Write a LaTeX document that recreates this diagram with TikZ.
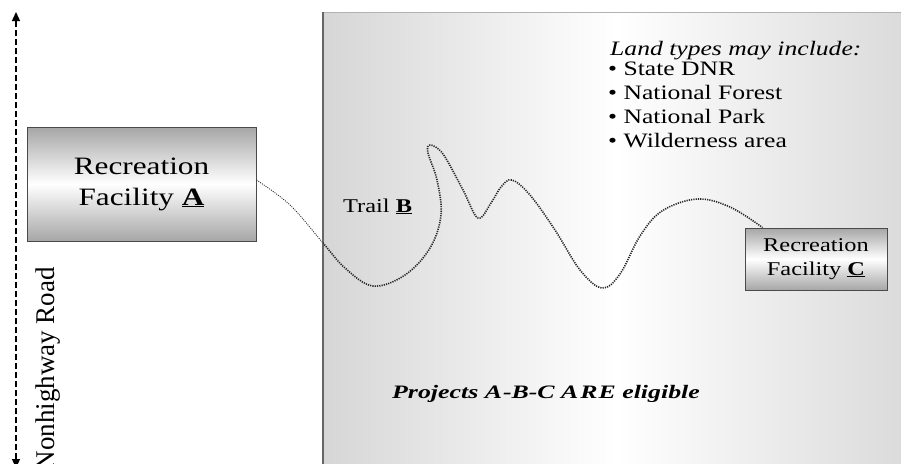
\documentclass[tikz,border=0pt]{standalone}
\usepackage{fontspec}
\setmainfont{Liberation Serif}
\newfontfamily\widefont[FakeStretch=1.25]{Liberation Serif}
\newfontfamily\projfont[FakeStretch=1.36]{Liberation Serif}
\usetikzlibrary{arrows.meta,calc}
\definecolor{paneledge}{HTML}{D6D6D6}
\definecolor{boxgray}{HTML}{A6A6A6}
\definecolor{boxline}{HTML}{4A4A4A}
\tikzset{
  facility/.style={draw=boxline, line width=0.9pt, top color=boxgray, bottom color=boxgray,
    middle color=white, align=center, inner sep=0pt},
  trail/.style={draw=black!85, line width=1.6pt, dash pattern=on 1.2pt off 1.1pt},
  trailthin/.style={draw=black!80, line width=0.9pt, dash pattern=on 1pt off 1.2pt},
  road/.style={draw=black, line width=1.4pt, dash pattern=on 6pt off 3pt},
}
\newcommand\trailpoints{(tA) (290,205) (323,243) (345,268) (373,286) (405,275) (430,248) (441,215)
  (437,180) (428,153) (430,145) (443,154) (463,190) (478,218) (491,203)
  (501,187) (512,180) (530,195) (555,230) (580,270) (602,288) (620,274)
  (640,236) (662,211) (697,199) (730,207) (tC)}
\begin{document}
\begin{tikzpicture}[x=1pt,y=-1pt]
\useasboundingbox (0,0) rectangle (901,463);
\clip (0,0) rectangle (901,463);

% land area panel
\shade[left color=paneledge, right color=paneledge!90, middle color=white]
  (323,12) rectangle (910,470);
\draw[gray!60, line width=0.8pt] (910,12) -- (323,12);
\draw[gray!80!black, line width=1.6pt] (323,12) -- (323,470);

% nonhighway road
\coordinate (roadtop) at (16,12);
\coordinate (roadbot) at (16,468);
\draw[road, {Triangle[width=8pt,length=9pt]}-{Triangle[width=8pt,length=9pt]}] (roadbot) -- (roadtop);
\node[rotate=90, anchor=base east, inner sep=0pt, font=\fontsize{27}{27}\selectfont]
  (roadlabel) at (54,267) {Nonhighway Road};

% facilities
\node[facility, minimum width=229pt, minimum height=114pt,
  font=\widefont\fontsize{25}{31}\selectfont] (A) at (141.5,184)
  {Recreation\\Facility \underline{\textbf{A}}};
\node[facility, minimum width=142pt, minimum height=62pt,
  font=\widefont\fontsize{19.5}{23.5}\selectfont] (C) at (816,259)
  {Recreation\\Facility \underline{\textbf{C}}};

% trail between the facilities: finer outside the panel, heavier inside
\coordinate (tA) at ([yshift=4pt]A.east);
\coordinate (tC) at ([xshift=18pt]C.north west);
\begin{scope}
  \clip (0,0) rectangle (323,463);
  \draw[trailthin] plot[smooth, tension=0.6] coordinates {\trailpoints};
\end{scope}
\begin{scope}
  \clip (323,0) rectangle (901,463);
  \draw[trail] plot[smooth, tension=0.6] coordinates {\trailpoints};
\end{scope}
\node[anchor=base west, inner sep=0pt, font=\widefont\fontsize{19.5}{20}\selectfont]
  (trailB) at (343,212) {Trail \underline{\textbf{B}}};

% land types list
\node[anchor=base west, inner sep=0pt, font=\widefont\itshape\fontsize{20.5}{24}\selectfont]
  (landhead) at (610,55) {Land types may include:};
\node[anchor=north west, inner sep=0pt, align=left,
  font=\widefont\fontsize{20.5}{24}\selectfont] (landlist) at (608,62)
  {\textbullet\ State DNR\\\textbullet\ National Forest\\\textbullet\ National Park\\\textbullet\ Wilderness area};

% eligibility note
\node[anchor=base west, inner sep=0pt, font=\projfont\bfseries\itshape\fontsize{19}{20}\selectfont]
  (note) at (392,398) {Projects A\kern1pt-B-C A\kern2pt R\kern1pt E eligible};
\end{tikzpicture}
\end{document}
